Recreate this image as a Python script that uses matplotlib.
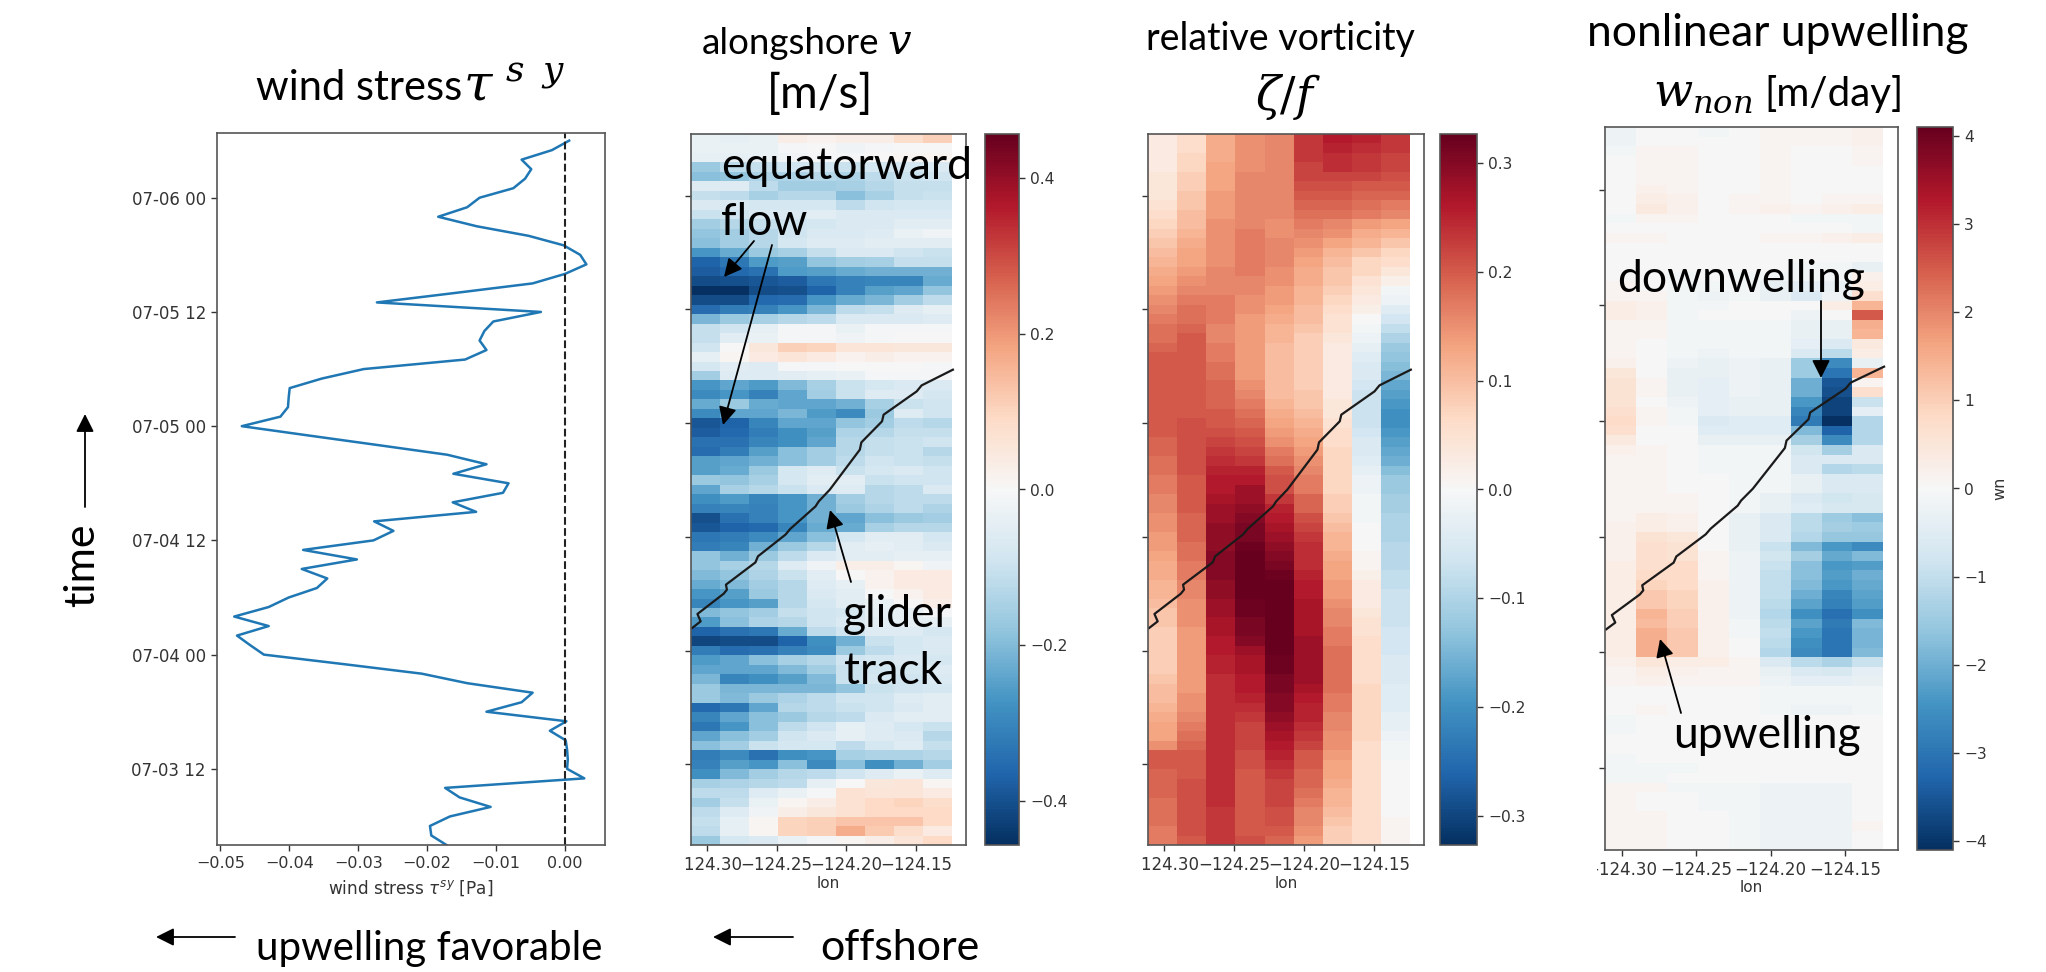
"""
Wind stress and model sections along the glider track: alongshore velocity,
relative vorticity and nonlinear upwelling.
"""
import numpy as np
import matplotlib
matplotlib.use('Agg')
import matplotlib.pyplot as plt
from matplotlib.patches import FancyArrowPatch
from matplotlib.transforms import Bbox

W, H = 2046, 972

# hours relative to 07-04 00, top row first in the section arrays
hours = np.arange(54, -21, -1)
lons = [-124.3008, -124.2800, -124.2593, -124.2385, -124.2177,
        -124.1970, -124.1762, -124.1554, -124.1347]
time_ticks = [-12, 0, 12, 24, 36, 48]
time_labels = ['07-03 12', '07-04 00', '07-04 12', '07-05 00', '07-05 12', '07-06 00']
lon_ticks = [-124.30, -124.25, -124.20, -124.15]
lon_labels = ['\u2212124.30', '\u2212124.25', '\u2212124.20', '\u2212124.15']

# wind stress [Pa], oldest first (hourly from 07-03 04)
stress = [-0.0172, -0.0194, -0.0196, -0.0167, -0.0108, -0.0153, -0.0174, 0.0028,
          0.0003, 0.0004, 0.0003, 0.0001, -0.0022, 0.0002, -0.0114, -0.0063,
          -0.0047, -0.0142, -0.0208, -0.0321, -0.0437, -0.0457, -0.0476, -0.0430,
          -0.0480, -0.0430, -0.0401, -0.0360, -0.0345, -0.0382, -0.0302, -0.0380,
          -0.0278, -0.0249, -0.0277, -0.0129, -0.0163, -0.0090, -0.0082, -0.0162,
          -0.0114, -0.0171, -0.0270, -0.0370, -0.0469, -0.0413, -0.0402, -0.0401,
          -0.03995, -0.0353, -0.0292, -0.0145, -0.0114, -0.0124, -0.0117, -0.0104,
          -0.0035, -0.0273, -0.0159, -0.0047, 0.0000, 0.0031, 0.0022, -0.0002,
          -0.0053, -0.0128, -0.0184, -0.0142, -0.0124, -0.0075, -0.0058, -0.0049,
          -0.0063, -0.0019, 0.0006]
stress_hours = np.arange(-20, 55)

# glider track
track_lon = [-124.3104, -124.3043, -124.3066, -124.2878, -124.2855, -124.2862, -124.2651,
             -124.2633, -124.2436, -124.2402, -124.2221, -124.2198, -124.2119, -124.1904,
             -124.1893, -124.1745, -124.1734, -124.1497, -124.1462, -124.1238]
track_hour = [2.39, 3.09, 3.87, 6.01, 6.43, 6.96, 9.31, 9.95, 12.24, 12.84, 15.22, 15.75,
              16.98, 21.2, 21.97, 24.19, 24.89, 27.35, 27.98, 29.64]

# alongshore velocity, m/s x 100
v_rows = [
    [-3, -4, -3, 3, 2, 3, 3, 8, 11],
    [-3, -3, -3, -1, 0, -2, -1, 0, 0],
    [-4, -4, -3, -2, -1, -1, 0, 1, 1],
    [-17, -12, -11, -9, -9, -10, -8, -8, -7],
    [-19, -18, -14, -14, -13, -14, -12, -10, -9],
    [-6, -6, -12, -16, -16, -15, -13, -11, -11],
    [-11, -12, -15, -13, -13, -19, -15, -11, -10],
    [-7, -7, -8, -8, -8, -12, -9, -8, -8],
    [-10, -9, -7, -7, -5, -7, -7, -7, -7],
    [-16, -13, -11, -9, -8, -7, -7, -5, -5],
    [-18, -16, -13, -9, -7, -7, -6, -3, -2],
    [-19, -16, -13, -8, -6, -6, -5, -5, -5],
    [-27, -23, -17, -15, -11, -7, -7, -9, -10],
    [-37, -33, -26, -25, -18, -16, -15, -11, -11],
    [-38, -36, -34, -26, -25, -23, -22, -22, -22],
    [-41, -40, -39, -38, -33, -31, -30, -30, -23],
    [-46, -46, -41, -40, -37, -31, -25, -24, -18],
    [-41, -41, -36, -35, -27, -23, -21, -16, -12],
    [-35, -32, -31, -27, -21, -12, -11, -6, -4],
    [-21, -17, -15, -13, -12, -7, -7, -7, -6],
    [-11, -9, -4, -1, -1, -3, -1, -1, -1],
    [-11, -5, -3, -1, -1, -2, -1, 0, 0],
    [-9, 0, 5, 11, 10, 6, 6, 5, 5],
    [-4, 1, 4, 6, 4, 2, 3, 2, 2],
    [-8, -5, -6, -1, -1, 0, 0, 0, -1],
    [-16, -6, -6, -5, -4, -3, -1, -1, -1],
    [-27, -24, -26, -20, -15, -10, -8, -7, -7],
    [-29, -27, -31, -24, -16, -10, -6, -6, -8],
    [-23, -17, -23, -24, -24, -22, -15, -10, -9],
    [-29, -24, -24, -21, -26, -29, -17, -6, -9],
    [-39, -37, -30, -24, -24, -18, -16, -12, -13],
    [-38, -36, -32, -28, -25, -14, -13, -11, -11],
    [-34, -34, -30, -28, -24, -13, -11, -10, -9],
    [-35, -32, -25, -19, -16, -13, -11, -10, -13],
    [-25, -24, -22, -19, -16, -12, -9, -10, -11],
    [-25, -23, -17, -8, -6, -10, -8, -7, -9],
    [-17, -18, -15, -8, -5, -5, -10, -9, -9],
    [-24, -15, -13, -10, -7, -6, -13, -12, -7],
    [-28, -26, -30, -27, -22, -16, -13, -12, -12],
    [-31, -30, -31, -27, -22, -17, -14, -12, -14],
    [-40, -34, -31, -27, -22, -24, -19, -17, -16],
    [-39, -37, -36, -30, -23, -23, -15, -13, -13],
    [-33, -32, -29, -24, -19, -8, -5, -5, -8],
    [-32, -30, -22, -17, -13, -5, -4, -5, -7],
    [-18, -22, -17, -12, -7, -5, -5, -4, -4],
    [-18, -15, -13, -6, -2, 3, 3, 1, -2],
    [-20, -18, -14, -10, -5, 0, 2, 4, 4],
    [-23, -20, -16, -13, -6, -4, 2, 4, 4],
    [-27, -25, -17, -13, -7, -5, 0, 2, 4],
    [-30, -27, -25, -13, -8, -5, -3, 0, 3],
    [-20, -18, -16, -11, -9, -8, -4, -4, -1],
    [-26, -19, -14, -13, -9, -7, -5, -4, -4],
    [-37, -34, -33, -23, -12, -9, -6, -6, -8],
    [-42, -41, -41, -37, -28, -22, -10, -8, -7],
    [-32, -35, -34, -31, -29, -17, -12, -8, -7],
    [-26, -24, -19, -15, -13, -9, -8, -7, -8],
    [-24, -24, -24, -20, -16, -10, -9, -8, -6],
    [-21, -30, -28, -25, -20, -10, -8, -9, -7],
    [-17, -21, -21, -21, -21, -18, -10, -9, -8],
    [-17, -20, -17, -14, -12, -9, -9, -6, -5],
    [-36, -33, -24, -13, -12, -10, -9, -7, -5],
    [-30, -24, -19, -17, -13, -12, -7, -5, -5],
    [-33, -27, -19, -12, -9, -4, -6, -8, -10],
    [-24, -19, -16, -9, -7, -4, -6, -7, -13],
    [-19, -16, -10, -8, -8, -12, -8, -6, -11],
    [-32, -29, -34, -28, -27, -15, -14, -14, -13],
    [-31, -25, -27, -19, -29, -19, -28, -22, -16],
    [-28, -20, -16, -13, -12, -9, -6, -3, -6],
    [-15, -14, -13, -12, -4, 0, 5, 6, 1],
    [-12, -12, -6, -3, -1, 7, 6, 6, 4],
    [-16, -11, -3, 1, 3, 7, 9, 10, 8],
    [-12, -6, -2, 3, 5, 7, 9, 9, 9],
    [-11, -4, 1, 10, 11, 13, 13, 13, 9],
    [-12, -4, 1, 10, 11, 17, 12, 8, 4],
    [-17, -8, -7, -3, -1, 1, 3, 6, 9],
]

# relative vorticity zeta/f x 100
zeta_rows = [
    [3, 6, 12, 15, 16, 23, 26, 25, 23],
    [3, 6, 12, 15, 16, 23, 25, 24, 23],
    [3, 7, 12, 15, 16, 23, 24, 23, 22],
    [3, 7, 13, 15, 16, 22, 24, 23, 22],
    [4, 8, 13, 16, 16, 22, 22, 22, 21],
    [4, 8, 13, 16, 16, 21, 21, 20, 20],
    [4, 9, 14, 16, 16, 20, 20, 19, 19],
    [5, 9, 14, 16, 16, 19, 19, 18, 17],
    [6, 10, 14, 16, 16, 18, 18, 17, 16],
    [7, 10, 15, 16, 15, 17, 16, 14, 13],
    [8, 11, 15, 17, 15, 16, 15, 12, 11],
    [9, 12, 15, 17, 16, 15, 13, 11, 9],
    [10, 13, 15, 17, 16, 14, 11, 9, 7],
    [11, 13, 15, 17, 16, 13, 10, 7, 6],
    [12, 14, 16, 17, 15, 12, 9, 7, 4],
    [13, 15, 16, 16, 15, 12, 9, 5, 2],
    [14, 16, 16, 16, 14, 11, 8, 4, -1],
    [15, 17, 17, 15, 14, 11, 7, 3, -2],
    [16, 18, 17, 15, 13, 10, 6, 2, -4],
    [17, 18, 17, 14, 12, 10, 5, 0, -6],
    [18, 19, 16, 14, 11, 9, 5, -1, -8],
    [18, 20, 16, 14, 11, 8, 4, -2, -10],
    [19, 20, 17, 14, 10, 8, 3, -3, -12],
    [20, 20, 17, 14, 10, 8, 3, -4, -13],
    [20, 20, 18, 14, 10, 8, 3, -5, -14],
    [20, 20, 18, 14, 10, 8, 3, -5, -15],
    [20, 20, 19, 15, 10, 8, 3, -6, -17],
    [20, 20, 19, 16, 10, 9, 3, -7, -18],
    [20, 20, 19, 17, 11, 9, 4, -7, -19],
    [20, 20, 20, 18, 12, 10, 4, -7, -20],
    [20, 21, 20, 19, 13, 11, 5, -7, -20],
    [20, 21, 21, 20, 14, 12, 6, -6, -19],
    [19, 21, 22, 21, 15, 13, 6, -5, -18],
    [19, 21, 23, 22, 17, 14, 7, -5, -17],
    [18, 21, 24, 23, 18, 15, 7, -4, -16],
    [18, 21, 25, 25, 20, 16, 7, -3, -14],
    [17, 20, 26, 26, 21, 17, 7, -2, -12],
    [17, 20, 26, 28, 21, 17, 7, -2, -12],
    [16, 20, 27, 28, 23, 19, 8, -1, -11],
    [16, 20, 28, 29, 25, 19, 8, -1, -11],
    [15, 19, 28, 30, 26, 21, 9, -1, -10],
    [15, 19, 29, 31, 27, 22, 10, 0, -10],
    [14, 19, 29, 31, 28, 23, 11, 0, -10],
    [14, 18, 29, 32, 29, 24, 11, 0, -9],
    [13, 18, 30, 33, 30, 24, 12, 1, -9],
    [12, 17, 30, 33, 31, 24, 13, 1, -9],
    [12, 17, 30, 33, 32, 25, 13, 2, -8],
    [11, 16, 29, 33, 33, 26, 14, 3, -8],
    [11, 16, 29, 33, 33, 26, 14, 3, -7],
    [10, 15, 28, 32, 33, 27, 15, 3, -7],
    [9, 15, 28, 32, 33, 27, 16, 4, -7],
    [9, 15, 27, 31, 33, 27, 16, 5, -7],
    [8, 14, 27, 31, 33, 27, 17, 5, -6],
    [8, 14, 26, 30, 33, 28, 17, 6, -6],
    [8, 14, 26, 28, 33, 28, 18, 6, -6],
    [8, 14, 25, 27, 32, 28, 18, 6, -5],
    [8, 14, 25, 27, 32, 28, 18, 6, -5],
    [9, 14, 24, 26, 31, 28, 18, 6, -5],
    [10, 14, 24, 26, 31, 27, 18, 7, -4],
    [10, 15, 24, 25, 30, 26, 17, 7, -4],
    [11, 15, 24, 24, 30, 25, 17, 7, -4],
    [12, 16, 24, 23, 29, 25, 16, 7, -3],
    [13, 17, 24, 22, 28, 24, 16, 7, -3],
    [13, 18, 24, 22, 27, 23, 15, 7, -2],
    [15, 19, 24, 22, 26, 22, 15, 6, -1],
    [20, 20, 24, 21, 25, 20, 14, 6, -1],
    [20, 20, 24, 21, 24, 20, 13, 6, 0],
    [19, 20, 24, 20, 23, 19, 13, 6, 0],
    [19, 21, 24, 20, 22, 19, 12, 6, 0],
    [19, 21, 24, 20, 22, 18, 11, 6, 0],
    [18, 21, 24, 20, 22, 17, 11, 6, 0],
    [18, 21, 23, 20, 21, 16, 10, 6, 0],
    [18, 21, 23, 20, 21, 16, 9, 6, 1],
    [17, 21, 23, 20, 20, 15, 8, 6, 1],
    [17, 20, 23, 21, 19, 14, 8, 6, 1],
]

# nonlinear upwelling, m/day x 10
wn_rows = [
    [-2, 0, 0, -1, 0, 1, 1, 1, 2],
    [-2, 0, 0, 0, 0, 1, 1, 1, 2],
    [-1, 1, 1, 0, 0, 1, 0, 0, 1],
    [0, 1, 1, 0, 0, 1, 0, 0, 1],
    [0, 1, 1, 0, 0, 1, 0, 0, 0],
    [0, 1, 1, 0, 0, 1, 0, 0, 0],
    [0, 2, 1, 0, 0, 1, 0, 0, 0],
    [0, 3, 2, 0, 1, 1, 0, 1, 1],
    [0, 4, 2, 0, 1, 2, 1, 2, 3],
    [-1, 1, 1, 0, 0, 0, -1, -1, -1],
    [0, 0, 0, 0, 0, 0, 0, 0, -1],
    [1, 1, 0, 0, 0, 1, 1, 2, 3],
    [0, 0, 0, 0, 0, 0, 0, 0, 0],
    [0, 0, 0, 0, 0, 0, 0, 0, 0],
    [0, 0, 0, 0, 0, 0, -1, -1, -3],
    [0, 0, -1, 0, -1, -1, -1, -1, 2],
    [1, 0, -1, -1, -1, -3, -4, -3, 3],
    [1, 1, -1, -2, -1, -3, -6, -2, 7],
    [3, 2, -1, -1, 0, 0, 0, 3, 14],
    [3, 2, -1, 0, 0, 0, -2, 0, 25],
    [1, 1, -1, -1, -1, -1, -3, -3, 15],
    [1, 1, -1, -1, -1, -1, -3, -3, 14],
    [1, 0, -1, -1, -1, -1, -4, -6, 4],
    [1, 0, -1, -2, -1, -1, -6, -11, 3],
    [2, 0, -2, -3, -2, -3, -15, -26, -3],
    [5, 0, -3, -3, -2, -3, -15, -30, 14],
    [6, 1, -3, -4, -2, -3, -20, -35, 1],
    [6, 1, -3, -4, -2, -3, -20, -36, 7],
    [6, 0, -2, -4, -3, -3, -24, -38, -9],
    [7, 1, -1, -4, -3, -3, -27, -38, -4],
    [8, 1, -1, -6, -5, -5, -29, -41, -12],
    [7, 0, 0, -5, -5, -5, -18, -33, -12],
    [4, 0, 0, -3, -3, -3, -14, -26, -12],
    [2, 1, 0, -1, -1, -1, -8, -14, -6],
    [1, 1, 0, -1, -1, -1, -6, -6, -6],
    [1, 1, 0, -1, -1, -1, -6, -12, -11],
    [1, 1, 0, 0, -1, -1, -3, -6, -6],
    [1, 1, 0, 0, -1, -1, -3, -6, -6],
    [1, 1, 1, 0, -1, -3, -6, -8, -7],
    [1, 1, 1, 0, -1, -3, -5, -7, -7],
    [1, 3, 2, 0, -3, -6, -11, -15, -17],
    [2, 3, 2, 0, -3, -6, -11, -14, -15],
    [2, 6, 5, 0, -3, -6, -12, -16, -16],
    [2, 7, 6, 0, -3, -9, -18, -24, -26],
    [2, 7, 6, 1, -2, -8, -14, -21, -18],
    [3, 7, 8, 1, -2, -9, -17, -24, -23],
    [3, 8, 8, 1, -2, -10, -17, -23, -20],
    [3, 9, 8, 2, -2, -10, -18, -24, -21],
    [3, 11, 9, 2, -2, -10, -20, -27, -22],
    [3, 11, 9, 2, -2, -11, -22, -28, -23],
    [3, 14, 10, 2, -2, -12, -25, -31, -25],
    [3, 13, 10, 2, -1, -11, -22, -29, -18],
    [3, 15, 11, 2, -1, -10, -24, -30, -19],
    [3, 15, 11, 2, 0, -11, -25, -30, -19],
    [3, 15, 11, 2, 0, -12, -26, -30, -18],
    [2, 5, 3, 3, 1, -6, -11, -13, -9],
    [1, 3, 2, 1, 1, -3, -6, -7, -4],
    [1, 2, 1, 1, 1, -2, -4, -4, -3],
    [0, 0, 0, 0, 0, -1, -1, -1, -1],
    [0, 0, 0, 0, 0, -1, -1, -1, -1],
    [0, 1, 0, 0, 0, -1, -2, -2, -1],
    [-1, 0, 0, 0, 0, 0, 0, 0, 0],
    [-1, 0, 0, 0, 0, 0, 0, 0, 0],
    [0, 0, 0, 0, 0, 0, 0, 0, 0],
    [0, 0, 0, 0, 0, 0, 0, 0, 0],
    [-1, 0, 0, 0, 0, 0, 0, 0, 0],
    [-1, -1, -1, 0, 0, 0, 0, 0, 0],
    [-1, -1, 0, 0, 0, 0, 0, 0, 0],
    [1, 1, -1, -1, -1, -2, -2, -2, 0],
    [1, 0, 0, -1, -1, -2, -2, -2, 0],
    [1, 0, 0, -1, -1, -2, -2, -2, 0],
    [1, 1, 0, 0, -1, -2, -2, -2, 0],
    [1, 1, 0, 0, -1, -2, -2, -2, 1],
    [1, 1, 0, 0, -1, -2, -2, -2, 0],
    [1, 1, 0, 0, -1, -2, -2, -2, 0],
]

SPINE = '#555555'
TICKC = '#333333'
SLIDE_FONT = 'Lato'


def px(x, y):
    # reference pixel to figure fraction
    return x / W, 1 - y / H


def new_axes(x0, y0, x1, y1):
    ax = fig.add_axes([x0 / W, 1 - y1 / H, (x1 - x0) / W, (y1 - y0) / H])
    for s in ax.spines.values():
        s.set_color(SPINE)
        s.set_linewidth(1.2)
    ax.tick_params(color=TICKC, labelcolor=TICKC, length=4.5, width=1.0)
    return ax


def section(box, cbox, rows, scale, vmax, cticks, clip_x):
    ax = new_axes(*box)
    mesh = ax.pcolormesh(lons, hours, np.array(rows) / scale, cmap='RdBu_r',
                         vmin=-vmax, vmax=vmax, shading='nearest', antialiased=False)
    ax.plot(track_lon, track_hour, color='#1a1a1a', lw=1.6)
    ax.set_yticks(time_ticks)
    ax.set_yticklabels([])
    ax.set_xticks(lon_ticks)
    ax.set_xticklabels(lon_labels, fontsize=12)
    ax.set_xlabel('lon', fontsize=11, color=TICKC, labelpad=1)
    # the first label's minus sign is cut off in the original
    ax.get_xticklabels()[0].set_clip_on(True)
    ax.get_xticklabels()[0].set_clip_box(Bbox([[clip_x, 0], [W, H]]))

    cax = new_axes(*cbox)
    cb = fig.colorbar(mesh, cax=cax)
    cb.set_ticks(cticks)
    cb.ax.tick_params(labelsize=11.2, color=TICKC, labelcolor=TICKC, length=4.5, width=1.0)
    cb.outline.set_edgecolor(SPINE)
    cb.outline.set_linewidth(1.2)
    return ax, cb


def slide_text(x, y, s, size=32, **kw):
    fig.text(*px(x, y), s, fontsize=size, family=SLIDE_FONT, color='black',
             math_fontfamily='dejavuserif', **kw)


def slide_arrow(x0, y0, x1, y1):
    fig.add_artist(FancyArrowPatch(px(x0, y0), px(x1, y1), transform=fig.transFigure,
                                   arrowstyle='-|>,head_length=0.6,head_width=0.3',
                                   mutation_scale=18, lw=1.3, color='black',
                                   shrinkA=0, shrinkB=0, zorder=5))


fig = plt.figure(figsize=(W / 100, H / 100), dpi=100)

# wind stress
ax1 = new_axes(217, 133, 605, 845)
ax1.plot(stress, stress_hours, color='#1f77b4', lw=1.8)
ax1.axvline(0, color='#222222', ls='--', lw=1.5)
ax1.set_xlim(-0.0505, 0.0058)
ax1.set_ylim(-20.0, 54.8)
ax1.set_yticks(time_ticks)
ax1.set_yticklabels(time_labels, fontsize=12)
ax1.set_xticks([-0.05, -0.04, -0.03, -0.02, -0.01, 0.0])
ax1.set_xticklabels(['\u22120.05', '\u22120.04', '\u22120.03', '\u22120.02', '\u22120.01', '0.00'],
                    fontsize=11.5)
ax1.set_xlabel(r'wind stress $\tau^{sy}$ [Pa]', fontsize=12.2, color=TICKC, labelpad=5)

section((691, 134, 966, 845), (985, 134, 1019, 845), v_rows, 100, 0.457,
        [-0.4, -0.2, 0.0, 0.2, 0.4], 684)
section((1148, 134, 1424, 845), (1440, 134, 1477, 845), zeta_rows, 100, 0.3265,
        [-0.3, -0.2, -0.1, 0.0, 0.1, 0.2, 0.3], 1141)
ax4, cb4 = section((1605, 127, 1898, 850), (1917, 127, 1953, 850), wn_rows, 10, 4.1,
                   [-4, -3, -2, -1, 0, 1, 2, 3, 4], 1597)
cb4.set_label('wn', fontsize=11.5, color=TICKC, labelpad=4)

# slide titles
slide_text(256, 100, 'wind stress', size=30, va='baseline')
slide_text(463, 100, r'$\tau\;^{s\;\;y}$', size=37, va='baseline')
slide_text(702, 54, 'alongshore', size=26.5, va='baseline')
slide_text(887, 54, r'$v$', size=30, va='baseline')
slide_text(820, 94, '[m/s]', size=33, ha='center', va='center')
slide_text(1280, 39, 'relative vorticity', size=27, ha='center', va='center')
slide_text(1288, 97, r'$\zeta/f$', size=33, ha='center', va='center')
slide_text(1778, 33, 'nonlinear upwelling', ha='center', va='center')
slide_text(1653, 106, r'$w_{non}$', size=33, va='baseline')
slide_text(1764, 106, '[m/day]', size=29, va='baseline')

# annotations placed on the slide
slide_text(721, 179, 'equatorward', va='baseline')
slide_text(721, 235, 'flow', va='baseline')
slide_text(843, 627, 'glider', va='baseline')
slide_text(844, 684, 'track', va='baseline')
slide_text(1617, 292, 'downwelling', va='baseline')
slide_text(1673, 748, 'upwelling', va='baseline')
slide_text(256, 960, 'upwelling favorable', size=29, va='baseline')
slide_text(820, 960, 'offshore', size=31, va='baseline')
slide_text(82, 565, 'time', size=31, rotation=90, ha='center', va='center')

slide_arrow(754, 241, 724, 277)
slide_arrow(772, 245, 723, 425)
slide_arrow(851, 582, 830, 510)
slide_arrow(1821, 301, 1821, 378)
slide_arrow(1681, 713, 1660, 639)
slide_arrow(235, 937, 156, 937)
slide_arrow(793, 937, 713, 937)
slide_arrow(85, 507, 85, 414)

fig.savefig('out.png', dpi=100)
